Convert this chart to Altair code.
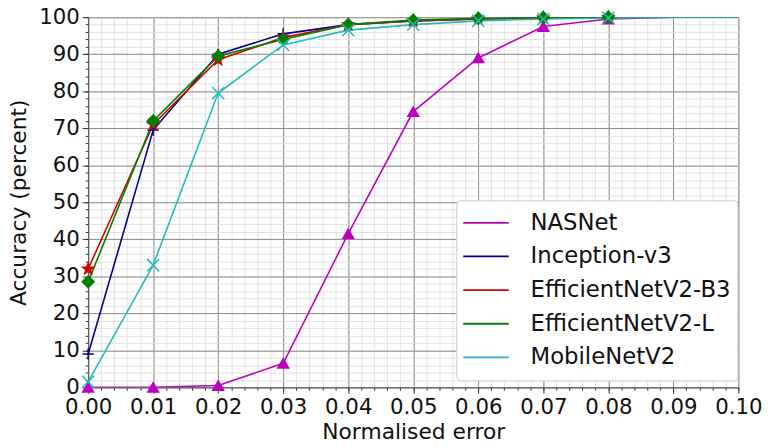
import math
import altair as alt
import pandas as pd

x_vals = [0.00, 0.01, 0.02, 0.03, 0.04, 0.05, 0.06, 0.07, 0.08, 0.09, 0.10]
series_names = ["NASNet", "Inception-v3", "EfficientNetV2-B3", "EfficientNetV2-L", "MobileNetV2"]
nasnet = [0.0, 0.0, 0.5, 6.5, 41.5, 74.5, 89.0, 97.5, 99.5, 100.0, 100.0]
inception = [9.0, 69.5, 90.0, 95.5, 98.0, 99.0, 99.5, 99.8, 100.0, 100.0, 100.0]
effb3 = [32.0, 71.0, 88.5, 94.5, 98.0, 99.0, 99.5, 99.8, 100.0, 100.0, 100.0]
effl = [28.5, 72.0, 89.5, 94.0, 98.0, 99.2, 99.7, 99.9, 100.0, 100.0, 100.0]
mobilenet = [1.5, 33.0, 79.5, 92.5, 96.5, 98.0, 99.0, 99.5, 99.8, 100.0, 100.0]
marker_last_x = 0.08

colors = ["#bf00bf", "#00008b", "#d40000", "#007f00", "#22bcbc"]

# marker shapes
def star_path():
    pts = []
    for i in range(10):
        r = 1.0 if i % 2 == 0 else 0.42
        a = math.radians(-90 + 36 * i)
        pts.append((r * math.cos(a), r * math.sin(a)))
    return "M" + "L".join(f"{px:.3f},{py:.3f}" for px, py in pts) + "Z"

shapes = ["triangle-up", "M-1,0L1,0M0,-1L0,1", star_path(), "diamond", "M-1,-1L1,1M-1,1L1,-1"]
fills = [colors[0], "transparent", colors[2], colors[3], "transparent"]
sizes = [120, 150, 170, 70, 150]

rows = []
for name, vals in zip(series_names, [nasnet, inception, effb3, effl, mobilenet]):
    for xv, yv in zip(x_vals, vals):
        rows.append({"x": xv, "y": yv, "series": name})
df = pd.DataFrame(rows)

marker_keys = [n + " marker" for n in series_names]

FONT = "DejaVu Sans"
W, H = 657, 374

minor_x = [round(i * 0.002, 3) for i in range(51)]
minor_y = list(range(0, 101, 2))
major_x = [round(i * 0.01, 2) for i in range(11)]
major_y = list(range(0, 101, 10))

xscale = alt.Scale(domain=[0, 0.1], nice=False, zero=False)
yscale = alt.Scale(domain=[0, 100], nice=False)

lines = alt.Chart(df).mark_line(strokeWidth=1.6, clip=True).encode(
    x=alt.X("x:Q", scale=xscale,
            axis=alt.Axis(orient="bottom", values=minor_x, labels=False, title=None,
                          grid=True, gridColor="#dcdcdc", gridWidth=0.8,
                          ticks=True, tickSize=3, tickColor="#333", domain=False)),
    y=alt.Y("y:Q", scale=yscale,
            axis=alt.Axis(orient="left", values=minor_y, labels=False, title=None,
                          grid=True, gridColor="#dcdcdc", gridWidth=0.8,
                          ticks=True, tickSize=3, tickColor="#333", domain=False)),
    color=alt.Color("series:N", scale=alt.Scale(domain=series_names, range=colors),
                    sort=series_names,
                    legend=alt.Legend(orient="none", legendX=372, legendY=185, title=None,
                                      symbolType="stroke", symbolSize=2116,
                                      symbolStrokeWidth=1.8, clipHeight=33.5,
                                      labelFontSize=23, labelFont=FONT, labelColor="#111",
                                      labelOffset=21, fillColor="white",
                                      strokeColor="#cccccc", cornerRadius=4,
                                      padding=6, rowPadding=0, labelLimit=400)),
    detail="series:N",
)

points = alt.Chart(df).transform_filter(
    alt.datum.x <= marker_last_x
).transform_calculate(
    model="datum.series + ' marker'"
).mark_point(strokeWidth=1.5, opacity=1).encode(
    x=alt.X("x:Q", scale=xscale,
            axis=alt.Axis(orient="bottom", values=major_x, format=".2f", title="Normalised error",
                          grid=True, gridColor="#8c8c8c", gridWidth=1.0,
                          tickSize=6, tickColor="#333", domainColor="#555",
                          labelFlush=False, labelOverlap=False,
                          labelFontSize=21.5, labelFont=FONT, labelColor="#111", labelPadding=3,
                          titleFontSize=22, titleFont=FONT, titleFontWeight="normal",
                          titleColor="#111", titlePadding=4)),
    y=alt.Y("y:Q", scale=yscale,
            axis=alt.Axis(orient="left", values=major_y, title="Accuracy (percent)",
                          grid=True, gridColor="#8c8c8c", gridWidth=1.0,
                          tickSize=6, tickColor="#333", domainColor="#555",
                          labelFlush=False, labelOverlap=False,
                          labelFontSize=21.5, labelFont=FONT, labelColor="#111", labelPadding=3,
                          titleFontSize=22, titleFont=FONT, titleFontWeight="normal",
                          titleColor="#111", titlePadding=8)),
    stroke=alt.Stroke("model:N", scale=alt.Scale(domain=marker_keys, range=colors), legend=None),
    fill=alt.Fill("model:N", scale=alt.Scale(domain=marker_keys, range=fills), legend=None),
    shape=alt.Shape("model:N", scale=alt.Scale(domain=marker_keys, range=shapes), legend=None),
    size=alt.Size("model:N", scale=alt.Scale(domain=marker_keys, range=sizes), legend=None),
)

chart = alt.layer(lines, points).resolve_axis(
    x="independent", y="independent"
).properties(
    width=W, height=H,
    autosize=alt.AutoSizeParams(type="none"),
    padding={"left": 81, "top": 7, "right": 35, "bottom": 59},
).configure_view(stroke="#555", strokeWidth=1.2).configure(background="white")

chart.save("out.html", embed_options={"renderer": "svg", "actions": False})
